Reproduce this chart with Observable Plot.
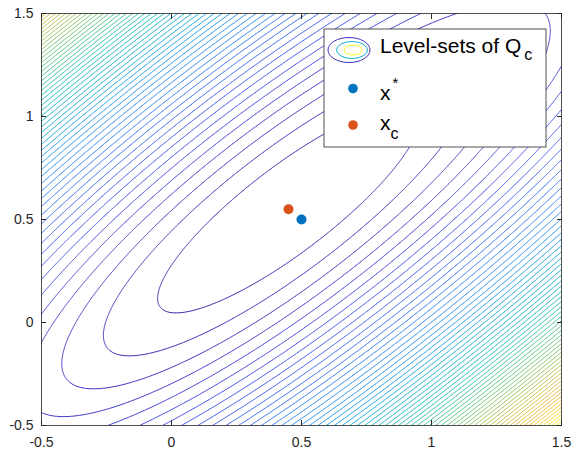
<!DOCTYPE html>
<html><head><meta charset="utf-8">
<script src="https://cdn.jsdelivr.net/npm/d3@7"></script>
<script src="https://cdn.jsdelivr.net/npm/@observablehq/plot@0.6"></script>
<style>
html,body{margin:0;padding:0;background:#fff;}
#chart{width:573px;height:450px;}
</style></head><body><div id="chart"></div>
<script>
// ---- data ----
const xTicks = [-0.5, 0, 0.5, 1, 1.5];
const yTicks = [-0.5, 0, 0.5, 1, 1.5];
const pointLabels = ["x*", "xc"];
const pointX = [0.5, 0.45];
const pointY = [0.5, 0.55];
const pointColors = ["#0072BD", "#D95319"];
// quadratic model Q_c(x) = (x - c)^T H (x - c)
const quadCenter = [0.45, 0.55];
const quadHessian = [1, -0.86, 1]; // h11, h12, h22
const levelStep = 0.066;
const levelCount = 70;
// parula colormap stops
const parulaStops = ["#3e26a8", "#4652ec", "#2f86f2", "#16a9dc", "#1fbcb8", "#62c87a", "#bcc34a", "#f8bb3a", "#f9fb15"];

const parula = d3.piecewise(d3.interpolateRgb, parulaStops);
function Qc(x, y) {
  const u = x - quadCenter[0], v = y - quadCenter[1];
  return quadHessian[0] * u * u + 2 * quadHessian[1] * u * v + quadHessian[2] * v * v;
}
const levels = d3.range(1, levelCount + 1).map(k => k * levelStep);
const xDom = [xTicks[0], xTicks[xTicks.length - 1]];
const yDom = [yTicks[0], yTicks[yTicks.length - 1]];
const zMax = d3.max([Qc(xDom[0], yDom[0]), Qc(xDom[0], yDom[1]), Qc(xDom[1], yDom[0]), Qc(xDom[1], yDom[1])]);
const points = pointLabels.map((l, i) => ({label: l, x: pointX[i], y: pointY[i], color: pointColors[i]}));
const pad = 0.05; // sample slightly beyond the frame so contour boundary edges are clipped away

const axisColor = "#262626";
const font = "'Liberation Sans', Arial, Helvetica, sans-serif";
const fmt = d => String(d);
const blank = () => "";

const plot = Plot.plot({
  width: 573, height: 450,
  marginLeft: 41, marginRight: 12, marginTop: 13, marginBottom: 25,
  style: {fontFamily: font, fontSize: "14px", color: axisColor, background: "#fff"},
  x: {domain: xDom},
  y: {domain: yDom},
  color: {type: "linear", domain: [0, zMax], interpolate: t => parula(t), clamp: true},
  marks: [
    Plot.contour({
      x1: xDom[0] - pad, x2: xDom[1] + pad, y1: yDom[0] - pad, y2: yDom[1] + pad,
      value: (x, y) => Qc(x, y),
      thresholds: levels,
      pixelSize: 1,
      fill: "none",
      stroke: "value",
      strokeWidth: 1,
      clip: true
    }),
    ...points.map(p => Plot.dot([p], {x: "x", y: "y", r: 5, fill: p.color, stroke: null})),
    Plot.frame({stroke: axisColor, strokeWidth: 0.8}),
    Plot.axisX(xTicks, {anchor: "bottom", tickSize: 0, tickPadding: 12, tickFormat: fmt, label: null, fontSize: 14}),
    Plot.axisY(yTicks, {anchor: "left", tickSize: 0, tickPadding: 8, tickFormat: fmt, label: null, fontSize: 14}),
    Plot.axisX(xTicks, {anchor: "bottom", tickSize: 5, dy: -5, tickFormat: blank, label: null, stroke: axisColor}),
    Plot.axisX(xTicks, {anchor: "top", tickSize: 5, dy: 5, tickFormat: blank, label: null, stroke: axisColor}),
    Plot.axisY(yTicks, {anchor: "left", tickSize: 5, dx: 5, tickFormat: blank, label: null, stroke: axisColor}),
    Plot.axisY(yTicks, {anchor: "right", tickSize: 5, dx: -5, tickFormat: blank, label: null, stroke: axisColor})
  ]
});
document.getElementById("chart").appendChild(plot);

// ---- legend ----
const svg = d3.select(plot);
const lg = svg.append("g").attr("font-family", font).attr("fill", "#000").attr("text-anchor", "start");
lg.append("rect").attr("x", 324).attr("y", 29).attr("width", 222).attr("height", 118)
  .attr("fill", "#fff").attr("stroke", axisColor).attr("stroke-width", 0.8);
lg.append("ellipse").attr("cx", 349).attr("cy", 50).attr("rx", 21).attr("ry", 12.5)
  .attr("fill", "none").attr("stroke", parula(0.03)).attr("stroke-width", 1);
lg.append("ellipse").attr("cx", 352).attr("cy", 50).attr("rx", 15.5).attr("ry", 8.5)
  .attr("fill", "none").attr("stroke", parula(0.42)).attr("stroke-width", 1);
lg.append("ellipse").attr("cx", 353).attr("cy", 50).attr("rx", 9).attr("ry", 5)
  .attr("fill", "none").attr("stroke", parula(1)).attr("stroke-width", 1);
const t1 = lg.append("text").attr("x", 380).attr("y", 53).attr("font-size", 21);
t1.append("tspan").text("Level-sets of Q");
t1.append("tspan").attr("font-size", 16).attr("dx", 3).attr("dy", 7).text("c");

lg.append("circle").attr("cx", 353).attr("cy", 88.5).attr("r", 4.8).attr("fill", pointColors[0]);
const t2 = lg.append("text").attr("x", 380).attr("y", 100).attr("font-size", 21);
t2.append("tspan").text("x");
t2.append("tspan").attr("font-size", 15).attr("dx", 2).attr("dy", -12).text("*");

lg.append("circle").attr("cx", 353).attr("cy", 125).attr("r", 4.8).attr("fill", pointColors[1]);
const t3 = lg.append("text").attr("x", 380).attr("y", 130).attr("font-size", 21);
t3.append("tspan").text("x");
t3.append("tspan").attr("font-size", 16).attr("dy", 9).text("c");
</script></body></html>
